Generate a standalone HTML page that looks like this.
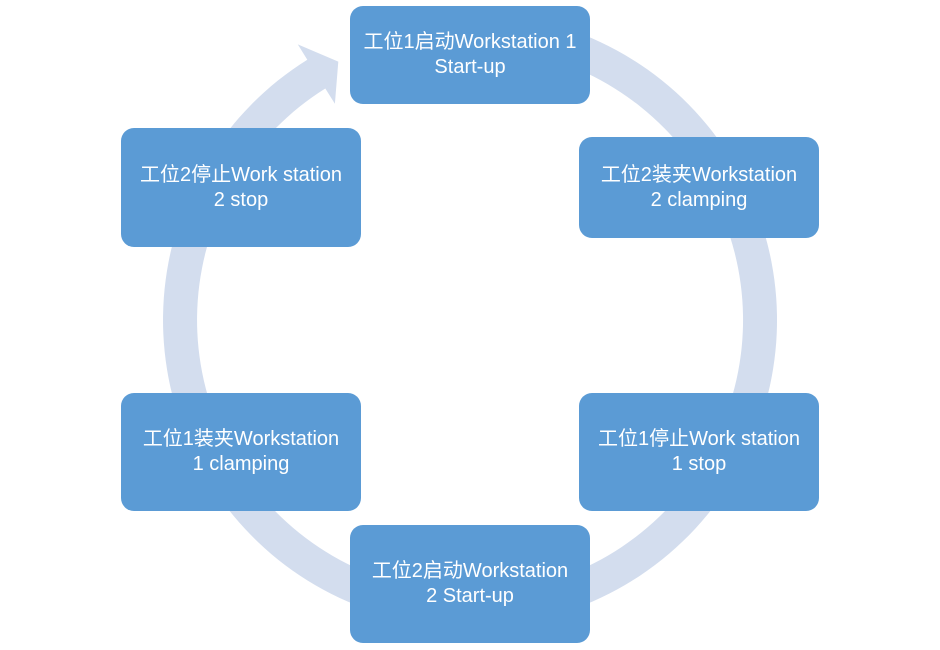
<!DOCTYPE html>
<html>
<head>
<meta charset="utf-8">
<style>
  html, body { margin:0; padding:0; background:#ffffff; }
  body { width:940px; height:650px; position:relative; overflow:hidden; }
  svg { position:absolute; left:0; top:0; }
  .box {
    position:absolute;
    background:#5b9bd5;
    border-radius:13px;
    display:flex;
    align-items:center;
    justify-content:center;
    text-align:center;
    color:#ffffff;
    font-family:"Liberation Sans","Noto Sans CJK SC",sans-serif;
    font-size:20px;
    line-height:25px;
    box-sizing:border-box;
  }
</style>
</head>
<body>
<svg width="940" height="650" viewBox="0 0 940 650">
  <path d="M 496.8 14.2 A 307 307 0 1 1 307.3 59.7 L 297.8 44.4 L 338.3 61.6 L 334.9 103.8 L 325.3 88.5 A 273 273 0 1 0 493.8 48.0 Z" fill="#d3ddee"/>
</svg>

<div class="box" style="left:350px;top:6px;width:240px;height:98px;">工位1启动Workstation 1<br>Start-up</div>
<div class="box" style="left:579px;top:137px;width:240px;height:101px;">工位2装夹Workstation<br>2 clamping</div>
<div class="box" style="left:579px;top:393px;width:240px;height:118px;">工位1停止Work station<br>1 stop</div>
<div class="box" style="left:350px;top:525px;width:240px;height:118px;">工位2启动Workstation<br>2 Start-up</div>
<div class="box" style="left:121px;top:393px;width:240px;height:118px;">工位1装夹Workstation<br>1 clamping</div>
<div class="box" style="left:121px;top:128px;width:240px;height:119px;">工位2停止Work station<br>2 stop</div>
</body>
</html>
